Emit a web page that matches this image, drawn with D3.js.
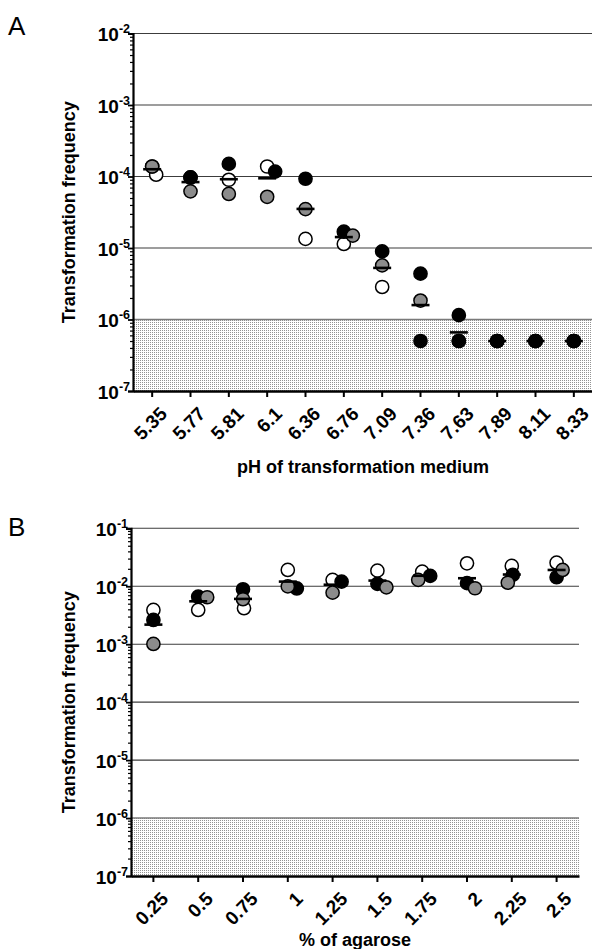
<!DOCTYPE html>
<html>
<head>
<meta charset="utf-8">
<script src="https://cdn.jsdelivr.net/npm/d3@7"></script>
<style>
  body { margin: 0; background: #fff; }
  svg text { font-family: "Liberation Sans", Arial, sans-serif; }
</style>
</head>
<body>
<div id="chart"></div>
<script>
// panel A : pH of transformation medium
const PH_LABELS = ["5.35", "5.77", "5.81", "6.1", "6.36", "6.76", "7.09", "7.36", "7.63", "7.89", "8.11", "8.33"];
const PH_OPEN  = [1.06e-4, 9.7e-5, 9.0e-5, 1.38e-4, 1.34e-5, 1.14e-5, 2.85e-6, 5e-7, 5e-7, 5e-7, 5e-7, 5e-7];
const PH_GRAY  = [1.38e-4, 6.2e-5, 5.7e-5, 5.2e-5, 3.5e-5, 1.49e-5, 5.72e-6, 1.84e-6, 5e-7, 5e-7, 5e-7, 5e-7];
const PH_BLACK = [1.38e-4, 9.7e-5, 1.5e-4, 1.17e-4, 9.3e-5, 1.69e-5, 8.97e-6, 4.38e-6, 1.15e-6, 5e-7, 5e-7, 5e-7];

// panel B : % of agarose
const AG_LABELS = ["0.25", "0.5", "0.75", "1", "1.25", "1.5", "1.75", "2", "2.25", "2.5"];
const AG_OPEN  = [3.9e-3, 3.9e-3, 4.18e-3, 1.91e-2, 1.29e-2, 1.86e-2, 1.79e-2, 2.49e-2, 2.24e-2, 2.55e-2];
const AG_GRAY  = [1.01e-3, 6.46e-3, 5.97e-3, 9.93e-3, 7.76e-3, 9.6e-3, 1.29e-2, 9.24e-3, 1.15e-2, 1.91e-2];
const AG_BLACK = [2.62e-3, 6.6e-3, 8.87e-3, 9.17e-3, 1.2e-2, 1.1e-2, 1.51e-2, 1.13e-2, 1.57e-2, 1.43e-2];

const DETECTION_LIMIT = 1e-6;

const FRAME_WIDTH = 592;
const FRAME_HEIGHT = 949;
const R = 6.6;
const SPREAD = 9; // min distance before dots get pushed sideways

const SVG = d3.select("#chart")
  .append("svg")
    .attr("width", FRAME_WIDTH)
    .attr("height", FRAME_HEIGHT);

// stipple pattern for the below-detection zone
const pat = SVG.append("defs").append("pattern")
  .attr("id", "dots")
  .attr("patternUnits", "userSpaceOnUse")
  .attr("width", 2).attr("height", 2);
pat.append("rect").attr("width", 2).attr("height", 2).attr("fill", "#fff");
pat.append("rect").attr("width", 1).attr("height", 1).attr("fill", "#939393");

function drawPanel(cfg) {
  const g = SVG.append("g");

  const X = d3.scaleBand().domain(cfg.labels).range([cfg.left, cfg.right]);
  const Y = d3.scaleLog().domain([1e-7, cfg.maxY]).range([cfg.bottom, cfg.top]);

  const decades = d3.range(-7, Math.round(Math.log10(cfg.maxY)) + 1).map(e => Math.pow(10, e));
  const minors = [];
  decades.slice(0, -1).forEach(d => { for (let k = 2; k <= 9; k++) minors.push(d * k); });

  // shaded zone under detection limit
  g.append("rect")
    .attr("x", cfg.left)
    .attr("y", Y(DETECTION_LIMIT))
    .attr("width", cfg.right - cfg.left)
    .attr("height", Y(1e-7) - Y(DETECTION_LIMIT))
    .attr("fill", "url(#dots)");

  // horizontal grid
  g.selectAll(".grid")
    .data(decades.slice(1))
    .enter()
    .append("line")
      .attr("x1", cfg.left).attr("x2", cfg.right)
      .attr("y1", d => Y(d)).attr("y2", d => Y(d))
      .attr("stroke", d => d === DETECTION_LIMIT ? "#7a7a7a" : "#3c3c3c")
      .attr("stroke-width", d => d === DETECTION_LIMIT ? 1.6 : 1.1);

  // points: one entry per replicate
  const series = [
    {vals: cfg.open, fill: "#fff"},
    {vals: cfg.black, fill: "#000"},
    {vals: cfg.gray, fill: "#8c8c8c"}
  ];
  const pts = [];
  cfg.labels.forEach((lab, i) => {
    series.forEach((s, si) => {
      pts.push({cat: lab, v: s.vals[i], fill: s.vals[i] < DETECTION_LIMIT ? "#000" : s.fill, order: si});
    });
  });

  // small beeswarm inside each column so near-equal dots sit side by side
  cfg.labels.forEach(lab => {
    const col = pts.filter(p => p.cat === lab).slice().sort((a, b) => b.v - a.v);
    const placed = [];
    col.forEach(p => {
      const cy = Y(p.v);
      let off = 0;
      for (let k = 0; k < 40; k++) {
        const cand = k === 0 ? 0 : (k % 2 ? 1 : -1) * Math.ceil(k / 2);
        const ok = placed.every(q => q.v === p.v || Math.hypot(cand - q.off, cy - q.cy) >= SPREAD);
        if (ok) { off = cand; break; }
      }
      p.off = off; p.cy = cy;
      placed.push(p);
    });
  });

  g.selectAll(".pt")
    .data(pts.sort((a, b) => a.order - b.order))
    .enter()
    .append("circle")
      .attr("cx", d => X(d.cat) + X.bandwidth() / 2 + d.off)
      .attr("cy", d => d.cy)
      .attr("r", R)
      .attr("fill", d => d.fill)
      .attr("stroke", "#000")
      .attr("stroke-width", 1.5);

  // geometric mean bars
  const means = cfg.labels.map((lab, i) => ({
    cat: lab,
    m: Math.pow(10, d3.mean([cfg.open[i], cfg.gray[i], cfg.black[i]], v => Math.log10(v)))
  }));
  g.selectAll(".mean")
    .data(means)
    .enter()
    .append("line")
      .attr("x1", d => X(d.cat) + X.bandwidth() / 2 - 9)
      .attr("x2", d => X(d.cat) + X.bandwidth() / 2 + 9)
      .attr("y1", d => Y(d.m)).attr("y2", d => Y(d.m))
      .attr("stroke", "#000")
      .attr("stroke-width", 2.6);

  // y axis, major + minor ticks
  const yMinor = g.append("g")
    .attr("transform", "translate(" + cfg.left + ",0)")
    .call(d3.axisLeft(Y).tickValues(minors).tickSize(3).tickFormat(""));
  yMinor.select(".domain").remove();
  yMinor.selectAll("line").attr("stroke-width", 1.2);

  const yAxis = g.append("g")
    .attr("transform", "translate(" + cfg.left + ",0)")
    .call(d3.axisLeft(Y).tickValues(decades).tickSize(5).tickFormat(""));
  yAxis.select(".domain").attr("stroke-width", 2.2);
  yAxis.selectAll("line").attr("stroke-width", 1.8);

  const yLab = g.selectAll(".ylab")
    .data(decades)
    .enter()
    .append("text")
      .attr("x", cfg.left - 3)
      .attr("y", d => Y(d) + 7.5)
      .attr("text-anchor", "end")
      .attr("font-weight", "bold")
      .attr("font-size", "19px");
  yLab.append("tspan").text("10");
  yLab.append("tspan")
    .attr("dy", -8)
    .attr("font-size", "12.5px")
    .text(d => "-" + Math.round(-Math.log10(d)));

  // x axis
  const xAxis = g.append("g")
    .attr("transform", "translate(0," + cfg.bottom + ")")
    .call(d3.axisBottom(X).tickSize(6).tickSizeOuter(0).tickFormat(""));
  xAxis.select(".domain").attr("stroke-width", 2.4);
  xAxis.selectAll("line").attr("stroke-width", 2);

  g.selectAll(".xlab")
    .data(cfg.labels)
    .enter()
    .append("text")
      .attr("transform", d => "translate(" + (X(d) + X.bandwidth() / 2 + 6) + "," + (cfg.bottom + 14) + ") rotate(-45)")
      .attr("text-anchor", "end")
      .attr("dy", "0.75em")
      .attr("font-weight", "bold")
      .attr("font-size", "19px")
      .text(d => d);

  // titles
  g.append("text")
    .attr("x", (cfg.left + cfg.right) / 2)
    .attr("y", cfg.xTitleY)
    .attr("text-anchor", "middle")
    .attr("font-weight", "bold")
    .attr("font-size", "18px")
    .text(cfg.xTitle);

  g.append("text")
    .attr("transform", "translate(75," + ((cfg.top + cfg.bottom) / 2) + ") rotate(-90)")
    .attr("text-anchor", "middle")
    .attr("font-weight", "bold")
    .attr("font-size", "18px")
    .text("Transformation frequency");

  g.append("text")
    .attr("x", 8)
    .attr("y", cfg.letterY)
    .attr("font-size", "26px")
    .text(cfg.letter);
}

drawPanel({
  letter: "A", letterY: 35,
  labels: PH_LABELS, open: PH_OPEN, gray: PH_GRAY, black: PH_BLACK,
  maxY: 1e-2, left: 133, right: 593, top: 33.5, bottom: 391,
  xTitle: "pH of transformation medium", xTitleY: 473
});

drawPanel({
  letter: "B", letterY: 536,
  labels: AG_LABELS, open: AG_OPEN, gray: AG_GRAY, black: AG_BLACK,
  maxY: 1e-1, left: 131, right: 579, top: 528.3, bottom: 876,
  xTitle: "% of agarose", xTitleY: 946
});
</script>
</body>
</html>
